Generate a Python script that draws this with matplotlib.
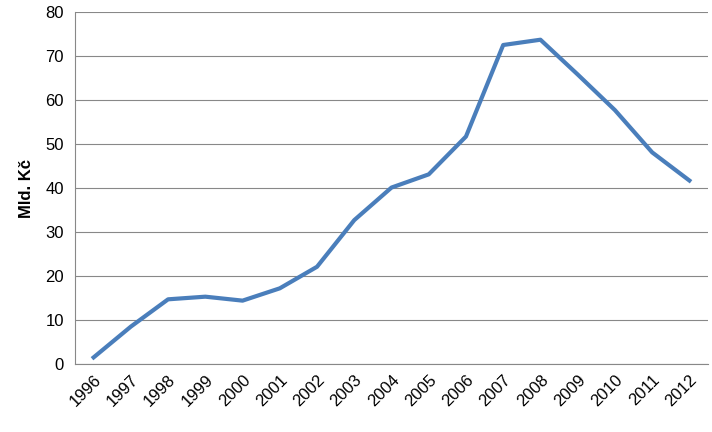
import matplotlib.pyplot as plt

years = [str(y) for y in range(1996, 2013)]
values = [1.5, 8.5, 14.7, 15.3, 14.4, 17.2, 22.1, 32.7, 40.1, 43.1,
          51.7, 72.5, 73.7, 65.8, 57.7, 48.1, 41.7]

plt.rcParams['font.family'] = ['Liberation Sans', 'DejaVu Sans']

fig = plt.figure(figsize=(7.12, 4.32), dpi=100)
ax = fig.add_axes([75 / 712, 1 - 364 / 432, 633 / 712, 352 / 432])

x = range(len(years))
ax.plot(x, values, color='#4a7ebb', linewidth=3)
ax.set_xlim(-0.5, len(years) - 0.5)
ax.set_ylim(0, 80)
ax.set_yticks(range(0, 81, 10))
ax.set_xticks(list(x))
ax.set_xticklabels(years, rotation=45, ha='right', rotation_mode='anchor', fontsize=12)
ax.tick_params(axis='y', labelsize=12, length=0, pad=8)
ax.tick_params(axis='x', length=0, pad=6)
ax.grid(axis='y', color='#888888', linewidth=0.8)
ax.set_axisbelow(True)
for s in ['top', 'right']:
    ax.spines[s].set_visible(False)
ax.spines['left'].set_color('#888888')
ax.spines['bottom'].set_color('#888888')
ax.set_ylabel('Mld. Kč', fontsize=12, fontweight='bold', labelpad=8)

fig.savefig('out.png', dpi=100)
